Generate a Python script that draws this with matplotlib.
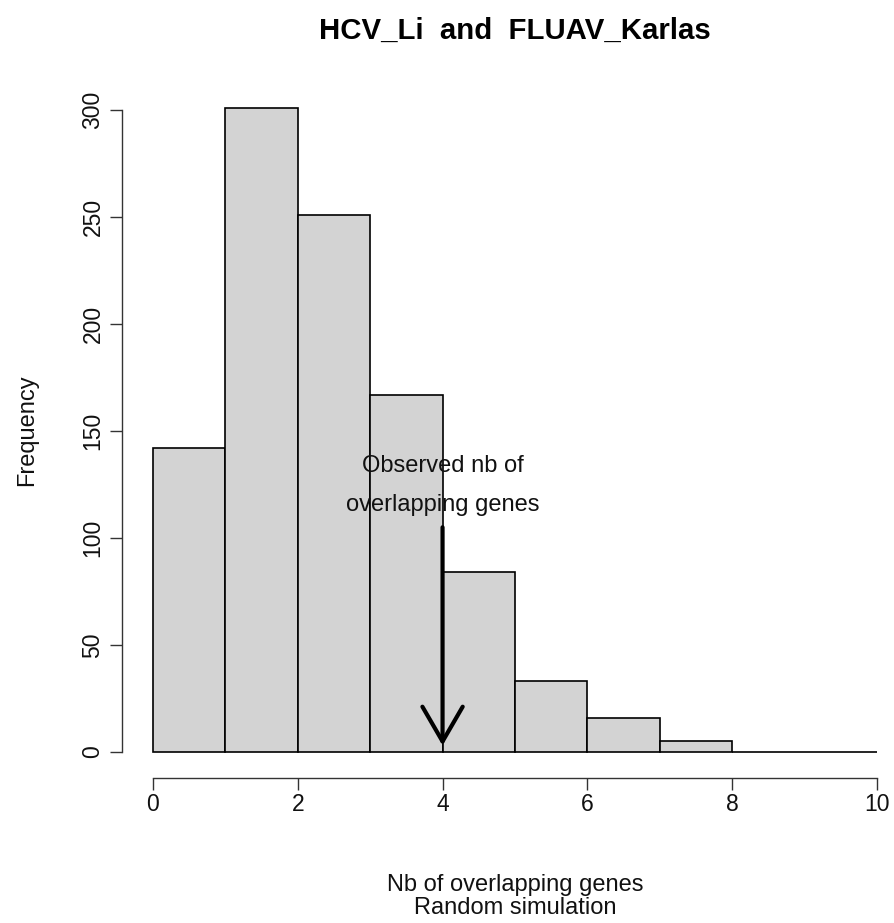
import matplotlib
matplotlib.use("Agg")
import matplotlib.pyplot as plt

plt.rcParams['font.family'] = ['Liberation Sans', 'DejaVu Sans']

bin_edges = [0, 1, 2, 3, 4, 5, 6, 7, 8, 9, 10]
counts = [142, 301, 251, 167, 84, 33, 16, 5, 0, 0]
observed = 4
arrow_top = 105
title = "HCV_Li  and  FLUAV_Karlas"
xlabel_lines = ["Nb of overlapping genes", "Random simulation"]
ylabel = "Frequency"
note_lines = ["Observed nb of", "overlapping genes"]
xticks = [0, 2, 4, 6, 8, 10]
yticks = [0, 50, 100, 150, 200, 250, 300]

W, H = 895, 923
fig = plt.figure(figsize=(W/100, H/100), dpi=100)
ax = fig.add_axes([122/W, 1-778/H, (W-122)/W, (778-90)/H])

lefts = bin_edges[:-1]
widths = [b - a for a, b in zip(bin_edges[:-1], bin_edges[1:])]
ax.bar(lefts, counts, width=widths, align='edge', color='#D3D3D3',
       edgecolor='black', linewidth=1.2)

ax.set_xlim(-0.428, 10.25)
ax.set_ylim(-12.15, 309.3)

for s in ['top', 'right']:
    ax.spines[s].set_visible(False)
ax.spines['left'].set_bounds(0, 300)
ax.spines['bottom'].set_bounds(0, 10)
for s in ['left', 'bottom']:
    ax.spines[s].set_linewidth(1.0)
    ax.spines[s].set_color('#333333')

ax.set_xticks(xticks)
ax.set_yticks(yticks)
ax.set_yticklabels([str(v) for v in yticks], rotation=90, va='center')
ax.tick_params(axis='both', direction='out', length=8.6, width=1.0,
               labelsize=16.5, colors='#333333', labelcolor='#111111')
ax.tick_params(axis='x', pad=2)
ax.tick_params(axis='y', pad=4)

ax.annotate("", xy=(observed, 3), xytext=(observed, arrow_top),
            arrowprops=dict(arrowstyle="->,head_length=2.5,head_width=1.45",
                            lw=3, color='black', mutation_scale=10,
                            shrinkA=0, shrinkB=0))

ax.text(observed, 133.6, note_lines[0], ha='center', va='center', fontsize=17, color='#111111')
ax.text(observed, 115.4, note_lines[1], ha='center', va='center', fontsize=17, color='#111111')

fig.text(515/W, 1-31/H, title, ha='center', va='center', fontsize=21.2, fontweight='bold')
fig.text(515/W, 1-885/H, xlabel_lines[0], ha='center', va='center', fontsize=17, color='#111111')
fig.text(515/W, 1-908/H, xlabel_lines[1], ha='center', va='center', fontsize=17, color='#111111')
fig.text(27/W, 1-430/H, ylabel, ha='center', va='center', rotation=90, fontsize=17, color='#111111')

fig.savefig("out.png", dpi=100)
